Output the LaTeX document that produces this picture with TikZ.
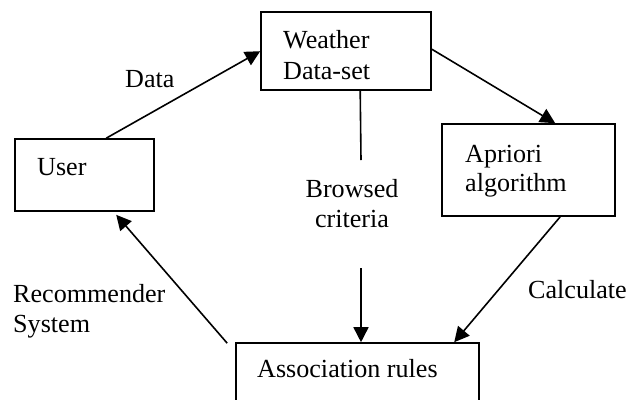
\documentclass[tikz,border=0pt]{standalone}
\usepackage{fontspec}
\setmainfont{Liberation Serif}
\usetikzlibrary{arrows.meta,calc}
\begin{document}
\begin{tikzpicture}[x=1bp,y=-1bp,
  box/.style={draw,line width=1.6bp,rectangle,inner sep=0pt},
  lbl/.style={inner sep=0pt,font=\fontsize{26.2}{30}\selectfont},
  flow/.style={line width=1.6bp,-{Triangle[length=15bp,width=15bp]}},
  plain/.style={line width=1.6bp}]
\useasboundingbox (0,0) rectangle (638,399);
\clip (0,0) rectangle (638,399);

% boxes
\node[box,minimum width=170bp,minimum height=78bp] (weather) at (346,51) {};
\node[box,minimum width=139bp,minimum height=72bp] (user) at (84.5,175) {};
\node[box,minimum width=173bp,minimum height=92bp] (apriori) at (528.5,170) {};
\node[box,minimum width=243bp,minimum height=77bp] (assoc) at (357.5,381.5) {};

% box texts
\node[lbl,anchor=base west] (wline1) at (283,48) {Weather};
\node[lbl,anchor=base west] (wline2) at (283,79) {Data-set};
\node[lbl,anchor=base west] (utext) at (37,175) {User};
\node[lbl,anchor=base west] (aline1) at (465,162) {Apriori};
\node[lbl,anchor=base west] (aline2) at (465,191) {algorithm};
\node[lbl,anchor=base west] (rtext) at (257,377) {Association rules};

% connector labels
\node[lbl,anchor=base west] (datalbl) at (125,87) {Data};
\node[lbl,anchor=base] (brw1) at (352,197) {Browsed};
\node[lbl,anchor=base] (brw2) at (352,227) {criteria};
\node[lbl,anchor=base west] (rec1) at (13,302) {Recommender};
\node[lbl,anchor=base west] (rec2) at (13,332) {System};
\node[lbl,anchor=base west] (calc) at (528,298) {Calculate};

% loose ends of the browsed-criteria link
\coordinate (brtop) at (361,160);
\coordinate (brbot) at (361,268);
\coordinate (recstart) at ($(assoc.north west)+(-8,1)$);

% connectors
\draw[flow] ($(user.north west)+(92,0)$) -- ($(weather.north west)+(0,40)$);
\draw[flow] ($(weather.north east)+(0,38)$) -- ($(apriori.north west)+(114,0)$);
\draw[plain] ($(weather.south west)+(100,0)$) -- (brtop);
\draw[flow] (brbot) -- (brbot |- assoc.north);
\draw[flow] ($(apriori.south west)+(119,0)$) -- ($(assoc.north west)+(219,0)$);
\draw[flow] (recstart) -- ($(user.south west)+(102,3)$);
\end{tikzpicture}
\end{document}
